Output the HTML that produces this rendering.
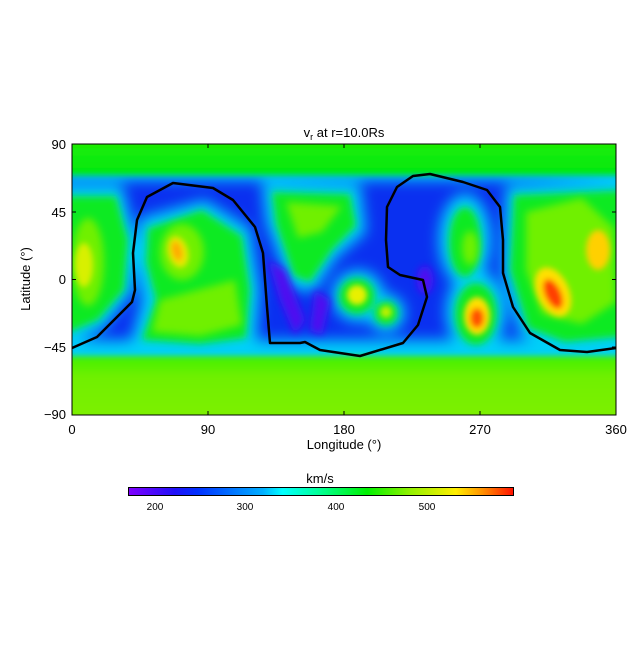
<!DOCTYPE html>
<html><head><meta charset="utf-8"><style>
html,body{margin:0;padding:0;background:#fff;}
svg text{font-family:"Liberation Sans",sans-serif;fill:#000;}
</style></head><body>
<svg width="640" height="640" viewBox="0 0 640 640" xmlns="http://www.w3.org/2000/svg">
<defs>
<clipPath id="c"><rect x="72" y="144" width="544" height="271"/></clipPath>
<filter id="b8" x="-20%" y="-20%" width="140%" height="140%"><feGaussianBlur stdDeviation="7"/></filter>
<filter id="b5" x="-30%" y="-30%" width="160%" height="160%"><feGaussianBlur stdDeviation="4"/></filter>
<filter id="b3" x="-30%" y="-30%" width="160%" height="160%"><feGaussianBlur stdDeviation="3"/></filter>
<linearGradient id="top" x1="0" y1="0" x2="0" y2="1"><stop offset="0" stop-color="#28f000"/><stop offset="1" stop-color="#00e810"/></linearGradient>
<linearGradient id="bot" x1="0" y1="0" x2="0" y2="1"><stop offset="0" stop-color="#40f000"/><stop offset="0.3" stop-color="#70f000"/><stop offset="1" stop-color="#80f000"/></linearGradient>
<linearGradient id="cb" x1="0" y1="0" x2="1" y2="0">
<stop offset="0" stop-color="#8000ff"/><stop offset="0.12" stop-color="#2010f8"/><stop offset="0.18" stop-color="#0030ff"/><stop offset="0.35" stop-color="#00b0ff"/><stop offset="0.4" stop-color="#00ffff"/><stop offset="0.5" stop-color="#00ff90"/><stop offset="0.62" stop-color="#00f000"/><stop offset="0.73" stop-color="#90f000"/><stop offset="0.85" stop-color="#ffee00"/><stop offset="0.92" stop-color="#ff9000"/><stop offset="1" stop-color="#ff1000"/></linearGradient>
</defs>
<g clip-path="url(#c)">
<rect x="60" y="130" width="570" height="300" fill="#0a30f0"/>
<!-- cyan halos -->
<g filter="url(#b8)" fill="#00d0f8">
<rect x="60" y="130" width="570" height="50"/>
<rect x="60" y="340" width="570" height="90"/>
<path d="M60,185 L122,185 L136,240 L132,292 L104,328 L60,348Z"/>
<path d="M140,218 L205,200 L250,228 L260,290 L256,345 L200,352 L130,345 L142,300 L135,258Z"/>
<path d="M262,182 L360,184 L366,232 L336,258 L314,292 L290,288 L266,222Z"/>
<circle cx="358" cy="296" r="26"/><circle cx="386" cy="313" r="19"/>
<ellipse cx="465" cy="240" rx="26" ry="46"/>
<ellipse cx="476" cy="312" rx="30" ry="42"/>
<path d="M506,186 L630,180 L630,345 L560,350 L520,335 L502,270Z"/>
</g>
<!-- green islands -->
<g filter="url(#b5)" fill="#10ea20">
<path d="M60,196 L116,196 L128,240 L124,290 L98,320 L60,336Z"/>
<path d="M148,228 L202,210 L242,236 L250,290 L246,338 L200,344 L142,340 L156,300 L146,262Z"/>
<path d="M272,192 L350,194 L356,226 L332,250 L310,282 L294,276 L276,224Z"/>
<circle cx="357" cy="296" r="18"/><circle cx="386" cy="313" r="12"/>
<ellipse cx="465" cy="242" rx="16" ry="35"/>
<ellipse cx="476" cy="314" rx="21" ry="31"/>
<path d="M514,195 L630,190 L630,336 L565,342 L528,328 L510,270Z"/>
</g>
<g filter="url(#b5)" fill="#70f000">
<ellipse cx="88" cy="262" rx="16" ry="44"/>
<path d="M160,300 L235,280 L242,325 L200,336 L152,332Z"/>
<ellipse cx="182" cy="252" rx="22" ry="28"/>
<path d="M286,202 L342,206 L322,232 L298,238Z"/>
<ellipse cx="470" cy="248" rx="8" ry="17"/>
<path d="M526,212 L582,198 L614,228 L616,302 L582,324 L542,314 L526,270Z"/>
</g>
<g filter="url(#b3)">
<ellipse cx="84" cy="265" rx="9" ry="22" fill="#d8f000"/>
<ellipse cx="178" cy="252" rx="10" ry="16" fill="#e8e800" transform="rotate(-15 178 252)"/>
<ellipse cx="177" cy="251" rx="5" ry="10" fill="#ffaa00" transform="rotate(-15 177 251)"/>
<circle cx="357" cy="295" r="10" fill="#e8f000"/>
<circle cx="386" cy="312" r="6" fill="#c0f000"/>
<ellipse cx="477" cy="316" rx="13" ry="19" fill="#ffe000"/>
<ellipse cx="477" cy="318" rx="7" ry="10" fill="#ff5000"/>
<ellipse cx="553" cy="292" rx="16" ry="26" fill="#ffe000" transform="rotate(-25 553 292)"/>
<ellipse cx="553" cy="294" rx="8" ry="16" fill="#ff4000" transform="rotate(-25 553 294)"/>
<ellipse cx="598" cy="250" rx="12" ry="20" fill="#ffd000"/>
</g>
<!-- purple streaks -->
<g filter="url(#b5)" fill="#5010f0">
<path d="M268,260 L285,270 L305,320 L295,335 L280,300Z"/>
<path d="M315,290 L330,300 L322,335 L310,330Z"/>
<ellipse cx="425" cy="280" rx="8" ry="14"/>
</g>
<!-- top & bottom bands -->
<rect x="60" y="130" width="570" height="45" fill="url(#top)" filter="url(#b3)"/>
<rect x="60" y="356" width="570" height="70" fill="url(#bot)" filter="url(#b3)"/>
</g>
<!-- contour -->
<path d="M72,348 L97,337 L117,317 L132,302 L135,290 L133,253 L137,220 L147,197 L173,183 L213,188 L233,200 L255,227 L263,253 L267,307 L270,343 L300,343 L305,342 L320,350 L360,356 L403,343 L418,325 L427,297 L423,280 L400,275 L388,267 L386,240 L387,207 L397,187 L413,176 L430,174 L463,182 L487,190 L500,207 L503,240 L503,273 L513,307 L530,333 L560,350 L587,352 L616,348" fill="none" stroke="#000" stroke-width="2.5" stroke-linejoin="round"/>
<!-- frame -->
<rect x="72" y="144" width="544" height="271" fill="none" stroke="#000" stroke-width="1"/>
<g stroke="#000" stroke-width="1">
<line x1="208" y1="144" x2="208" y2="148"/><line x1="344" y1="144" x2="344" y2="148"/><line x1="480" y1="144" x2="480" y2="148"/>
<line x1="208" y1="415" x2="208" y2="411"/><line x1="344" y1="415" x2="344" y2="411"/><line x1="480" y1="415" x2="480" y2="411"/>
<line x1="72" y1="212" x2="76" y2="212"/><line x1="72" y1="279.5" x2="76" y2="279.5"/><line x1="72" y1="347" x2="76" y2="347"/>
<line x1="616" y1="212" x2="612" y2="212"/><line x1="616" y1="279.5" x2="612" y2="279.5"/><line x1="616" y1="347" x2="612" y2="347"/>
</g>
<g font-size="13" text-anchor="end">
<text x="66" y="149">90</text><text x="66" y="217">45</text><text x="66" y="284">0</text><text x="66" y="352">−45</text><text x="66" y="419">−90</text>
</g>
<g font-size="13" text-anchor="middle">
<text x="72" y="434">0</text><text x="208" y="434">90</text><text x="344" y="434">180</text><text x="480" y="434">270</text><text x="616" y="434">360</text>
<text x="344" y="449">Longitude (°)</text>
<text x="344" y="137">v<tspan font-size="9" dy="3">r</tspan><tspan dy="-3"> at r=10.0Rs</tspan></text>
<text x="320" y="483">km/s</text>
</g>
<text transform="translate(30,279) rotate(-90)" font-size="13" text-anchor="middle">Latitude (°)</text>
<rect x="128.5" y="487.5" width="385" height="8" fill="url(#cb)" stroke="#000" stroke-width="1"/>
<g font-size="10" text-anchor="middle">
<text x="155" y="510">200</text><text x="245" y="510">300</text><text x="336" y="510">400</text><text x="427" y="510">500</text>
</g>
</svg>
</body></html>
